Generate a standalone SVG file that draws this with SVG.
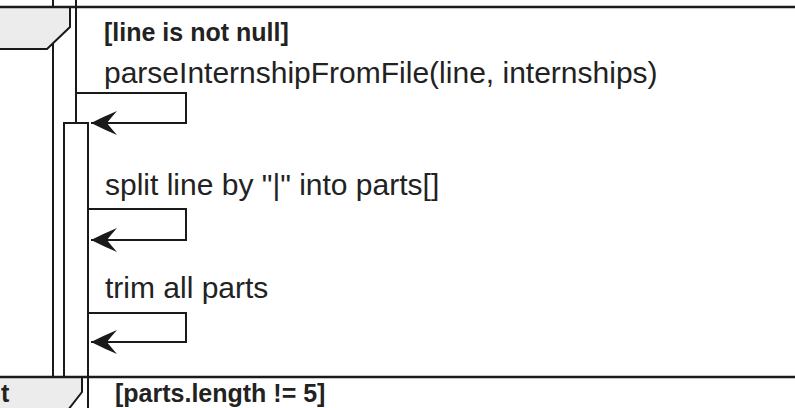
<svg xmlns="http://www.w3.org/2000/svg" width="795" height="408" viewBox="0 0 795 408">
<style>
.ln{stroke:#1a1a1a;stroke-width:2;fill:none}
.lab{fill:#ececec;stroke:#1a1a1a;stroke-width:2}
.msg{font-family:"Liberation Sans",Arial,sans-serif;font-size:30px;fill:#222}
.grd{font-family:"Liberation Sans",Arial,sans-serif;font-size:25px;font-weight:bold;fill:#222}
</style>
<defs>
<marker id="ah" markerUnits="userSpaceOnUse" markerWidth="30" markerHeight="26" refX="27" refY="13" orient="auto" viewBox="0 0 30 26">
<path d="M27,13 Q13,6 1,1 Q8,9 11,13 Q8,17 1,25 Q13,20 27,13 Z" fill="#1a1a1a"/>
</marker>
</defs>
<g id="lifelines">
<line class="ln" x1="53" y1="0" x2="53" y2="408"/>
<line class="ln" x1="76" y1="0" x2="76" y2="123"/>
<rect id="activation" class="ln" x="64" y="123" width="24" height="300" style="fill:#fff"/>
</g>
<g id="frame-top">
<path class="lab" d="M-5,7 L70,7 L70,27 L47,49 L-5,49 Z"/>
<line class="ln" x1="0" y1="7" x2="795" y2="7" style="stroke-width:2.5"/>
</g>
<g id="frame-bottom">
<path class="lab" d="M-5,377 L82,377 L82,392 L68,410 L-5,410 Z"/>
<line class="ln" x1="0" y1="377" x2="795" y2="377" style="stroke-width:2.5"/>
<text class="grd" x="1" y="402">t</text>
<text class="grd" x="115" y="402">[parts.length != 5]</text>
</g>
<g id="connectors">
<polyline class="ln" points="76,93 186,93 186,123 91,123" marker-end="url(#ah)"/>
<polyline class="ln" points="88,209 186,209 186,240 91,240" marker-end="url(#ah)"/>
<polyline class="ln" points="88,313 186,313 186,342 91,342" marker-end="url(#ah)"/>
</g>
<g id="labels">
<text class="grd" x="104" y="41">[line is not null]</text>
<text class="msg" x="104" y="83">parseInternshipFromFile(line, internships)</text>
<text class="msg" x="105" y="195">split line by "|" into parts[]</text>
<text class="msg" x="105" y="298">trim all parts</text>
</g>
</svg>
